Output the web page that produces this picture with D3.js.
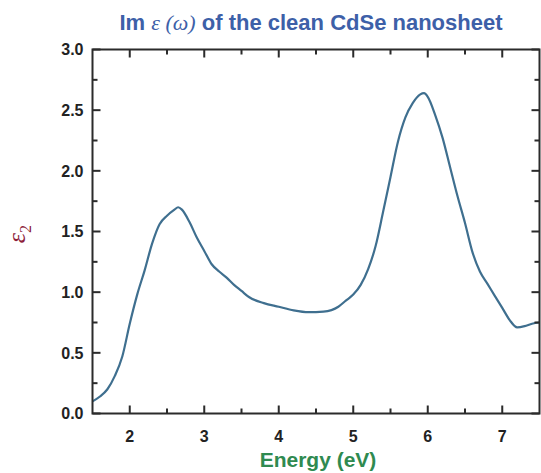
<!DOCTYPE html>
<html>
<head>
<meta charset="utf-8">
<script src="https://cdn.jsdelivr.net/npm/d3@7"></script>
<style>
  html, body { margin: 0; padding: 0; background: #fff; }
  svg { display: block; }
</style>
</head>
<body>
<svg id="chart" width="541" height="473"></svg>
<script>
// Photon energy (eV) and imaginary part of the dielectric function
const energy = [1.5, 1.6, 1.7, 1.8, 1.9, 2.0, 2.1, 2.2, 2.3, 2.4, 2.5, 2.6, 2.65, 2.7, 2.8, 2.9,
  3.0, 3.1, 3.2, 3.3, 3.4, 3.5, 3.6, 3.8, 4.0, 4.2, 4.4, 4.6, 4.8, 4.9, 5.0, 5.1, 5.2, 5.3,
  5.4, 5.5, 5.6, 5.7, 5.8, 5.9, 5.95, 6.0, 6.1, 6.2, 6.3, 6.4, 6.5, 6.6, 6.7, 6.8, 6.9, 7.0,
  7.1, 7.2, 7.3, 7.4, 7.5];
const eps2 = [0.10, 0.14, 0.20, 0.31, 0.47, 0.74, 0.98, 1.18, 1.40, 1.56, 1.63, 1.68, 1.70, 1.68, 1.58, 1.45,
  1.34, 1.23, 1.17, 1.12, 1.06, 1.01, 0.96, 0.91, 0.88, 0.85, 0.835, 0.84, 0.88, 0.93, 0.98, 1.06, 1.19, 1.38,
  1.66, 1.95, 2.24, 2.44, 2.56, 2.63, 2.64, 2.61, 2.46, 2.27, 2.03, 1.79, 1.57, 1.33, 1.17, 1.07, 0.97, 0.87,
  0.77, 0.71, 0.72, 0.74, 0.75];

const xTicks = [2, 3, 4, 5, 6, 7];
const xMinor = [2.5, 3.5, 4.5, 5.5, 6.5];
const yTicks = [0, 0.5, 1.0, 1.5, 2.0, 2.5, 3.0];
const yMinor = [0.25, 0.75, 1.25, 1.75, 2.25, 2.75];

const svg = d3.select("#chart");
const plotLeft = 92.5, plotRight = 539.5, plotTop = 49.5, plotBottom = 413.5;

const x = d3.scaleLinear().domain([1.5, 7.5]).range([plotLeft, plotRight]);
const y = d3.scaleLinear().domain([0, 3.0]).range([plotBottom, plotTop]);

const axisColor = "#2b2b2b";
const labelFont = "bold 16px Arial, 'Liberation Sans', sans-serif";
const majorLen = 8, minorLen = 5;

// Curve
const line = d3.line()
  .x((d, i) => x(energy[i]))
  .y(d => y(d))
  .curve(d3.curveMonotoneX);

svg.append("path")
  .datum(eps2)
  .attr("d", line)
  .attr("fill", "none")
  .attr("stroke", "#3f6f8f")
  .attr("stroke-width", 2.2)
  .attr("stroke-linejoin", "round");

// Frame
svg.append("rect")
  .attr("x", plotLeft).attr("y", plotTop)
  .attr("width", plotRight - plotLeft).attr("height", plotBottom - plotTop)
  .attr("fill", "none").attr("stroke", axisColor).attr("stroke-width", 2);

// Inward tick marks on all four sides of the frame, drawn as thin rectangles
const tickMarks = [];
xTicks.forEach(v => tickMarks.push({ side: "x", v, len: majorLen }));
xMinor.forEach(v => tickMarks.push({ side: "x", v, len: minorLen }));
yTicks.forEach(v => tickMarks.push({ side: "y", v, len: majorLen }));
yMinor.forEach(v => tickMarks.push({ side: "y", v, len: minorLen }));

const tw = 2;
const tg = svg.append("g").attr("fill", axisColor);
tickMarks.forEach(t => {
  if (t.side === "x") {
    const px = x(t.v) - tw / 2;
    tg.append("rect").attr("x", px).attr("y", plotBottom - t.len).attr("width", tw).attr("height", t.len);
    tg.append("rect").attr("x", px).attr("y", plotTop).attr("width", tw).attr("height", t.len);
  } else {
    const py = y(t.v) - tw / 2;
    tg.append("rect").attr("x", plotLeft).attr("y", py).attr("width", t.len).attr("height", tw);
    tg.append("rect").attr("x", plotRight - t.len).attr("y", py).attr("width", t.len).attr("height", tw);
  }
});

// Tick labels
svg.append("g").selectAll("text")
  .data(xTicks)
  .join("text")
  .attr("x", d => x(d))
  .attr("y", plotBottom + 28)
  .attr("text-anchor", "middle")
  .attr("fill", "#222")
  .style("font", labelFont)
  .text(d3.format("d"));

svg.append("g").selectAll("text")
  .data(yTicks)
  .join("text")
  .attr("x", plotLeft - 9)
  .attr("y", d => y(d))
  .attr("dy", "0.36em")
  .attr("text-anchor", "end")
  .attr("fill", "#222")
  .style("font", labelFont)
  .text(d3.format(".1f"));

// Title
const title = svg.append("text")
  .attr("x", 311).attr("y", 30)
  .attr("text-anchor", "middle")
  .attr("fill", "#3d60a8")
  .style("font", "bold 22px Arial, 'Liberation Sans', sans-serif");
title.append("tspan").text("Im ");
title.append("tspan").style("font-style", "italic").style("font-weight", "normal")
  .style("font-family", "'Liberation Serif', 'DejaVu Serif', serif").text("ε (ω)");
title.append("tspan").text(" of the clean CdSe nanosheet");

// X axis label
svg.append("text")
  .attr("x", 318).attr("y", 467)
  .attr("text-anchor", "middle")
  .attr("fill", "#2f8a50")
  .style("font", "bold 21px Arial, 'Liberation Sans', sans-serif")
  .text("Energy (eV)");

// Y axis label: epsilon with subscript 2
const ylab = svg.append("text")
  .attr("transform", "translate(25,234) rotate(-90)")
  .attr("text-anchor", "middle")
  .attr("fill", "#8e1f3c")
  .style("font", "italic 26px 'Liberation Serif', 'DejaVu Serif', serif");
ylab.append("tspan").text("ε");
ylab.append("tspan").attr("dy", 6).style("font-size", "16px").style("font-style", "normal").text("2");
</script>
</body>
</html>
